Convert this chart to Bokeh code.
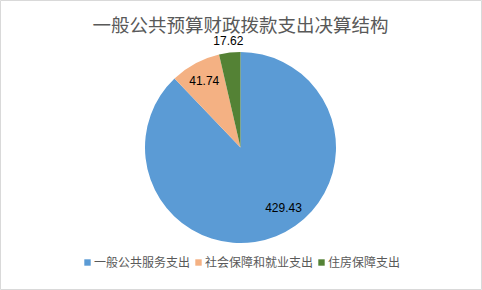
import math
from bokeh.plotting import figure
from bokeh.models import Range1d, Legend, LegendItem, ColumnDataSource
from bokeh.core.properties import value
from bokeh.embed import file_html
from bokeh.resources import INLINE

title_text = "一般公共预算财政拨款支出决算结构"
categories = ["一般公共服务支出", "社会保障和就业支出", "住房保障支出"]
values = [429.43, 41.74, 17.62]
value_labels = ["429.43", "41.74", "17.62"]
colors = ["#5B9BD5", "#F4B183", "#548235"]

# layout parameters (pixels == data units)
W, H = 482, 290
cx, cy, r = 240, 142, 95.5
label_t = [0.457, 0.5, 0.5]      # position along slice
label_rf = [0.777, 0.80, 1.128]  # fraction of radius

p = figure(width=W, height=H, output_backend="svg", toolbar_location=None,
           x_range=Range1d(0, 481), y_range=Range1d(0, 289),
           min_border_left=0, min_border_top=0, min_border_right=1, min_border_bottom=1)
p.axis.visible = False
p.grid.visible = False
p.outline_line_color = "#D9D9D9"
p.background_fill_color = "white"
p.border_fill_color = "white"

total = sum(values)
starts, ends = [], []
a = math.pi / 2
for v in values:
    starts.append(a)
    a -= 2 * math.pi * v / total
    ends.append(a)

src = ColumnDataSource(dict(start=starts, end=ends, color=colors, cat=categories))
wr = p.wedge(x=cx, y=cy, radius=r, start_angle="start", end_angle="end",
             direction="clock", fill_color="color", line_color=None,
             source=src)

lx, ly = [], []
for s, e, t, rf in zip(starts, ends, label_t, label_rf):
    ang = s - t * (s - e)
    lx.append(cx + r * rf * math.cos(ang))
    ly.append(cy + r * rf * math.sin(ang))
p.text(x=lx, y=ly, text=value_labels, text_font=value("Liberation Sans"),
       text_font_size="12px", text_color="black", text_align="center",
       text_baseline="middle")

p.text(x=[240], y=[289 - 23], text=[title_text], text_font=value("Noto Sans CJK SC"),
       text_font_size="18.5px", text_color="#595959", text_align="center",
       text_baseline="middle")

legend = Legend(items=[LegendItem(label=c, renderers=[wr], index=i)
                       for i, c in enumerate(categories)],
                orientation="horizontal", location=(83, 19),
                glyph_width=8, glyph_height=8, label_standoff=3, spacing=4,
                padding=0, margin=0, border_line_color=None,
                background_fill_alpha=0, label_height=8,
                label_text_font="Noto Sans CJK SC", label_text_font_size="12px",
                label_text_color="#595959")
p.add_layout(legend)

open("out.html", "w").write(file_html(p, INLINE))
